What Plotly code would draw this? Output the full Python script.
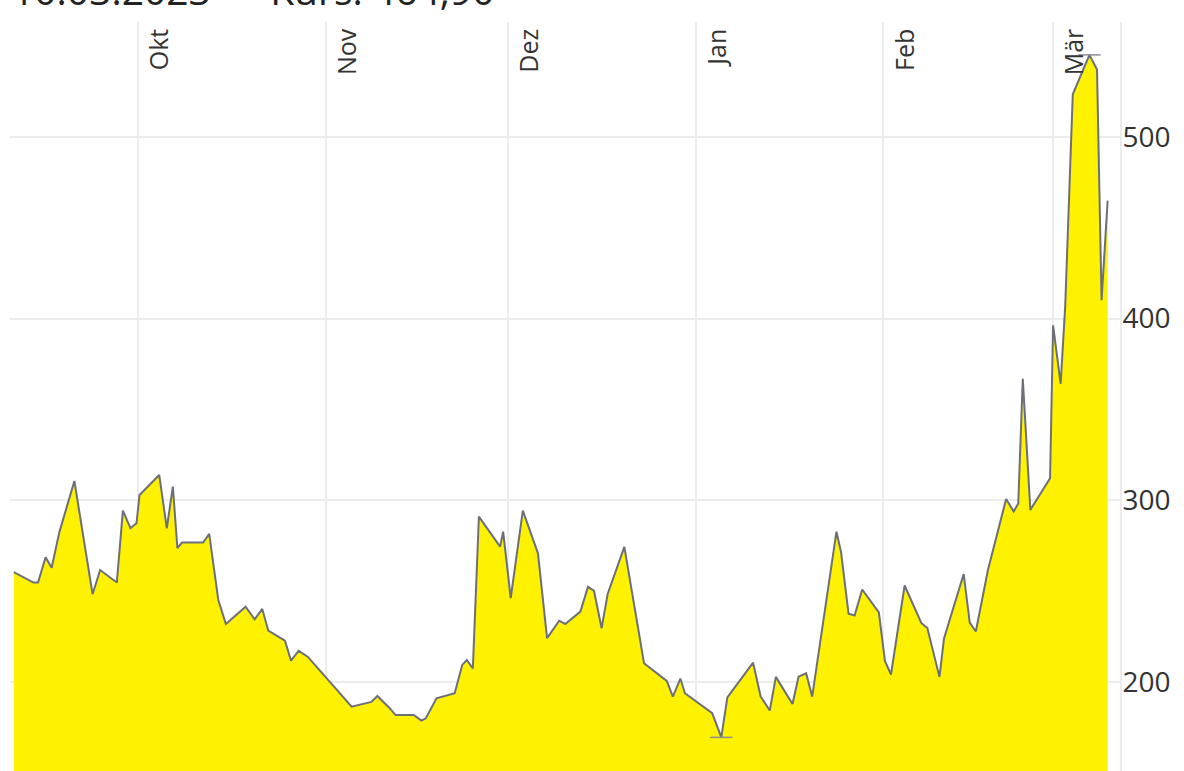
import numpy as np
import pandas as pd
import plotly.graph_objects as go

# ---- data ----
dates = [
    "2022-09-10 12:00", "2022-09-13 18:00", "2022-09-14 12:00", "2022-09-15 18:00", "2022-09-16 18:00",
    "2022-09-18 00:00", "2022-09-20 12:00", "2022-09-23 12:00", "2022-09-24 18:00", "2022-09-27 12:00",
    "2022-09-28 12:00", "2022-09-29 18:00", "2022-09-30 18:00", "2022-10-01 06:00", "2022-10-04 12:00",
    "2022-10-05 18:00", "2022-10-06 18:00", "2022-10-07 12:00", "2022-10-08 06:00", "2022-10-11 18:00",
    "2022-10-12 18:00", "2022-10-14 06:00", "2022-10-15 12:00", "2022-10-18 18:00", "2022-10-20 06:00",
    "2022-10-21 12:00", "2022-10-22 12:00", "2022-10-25 06:00", "2022-10-26 06:00", "2022-10-27 12:00",
    "2022-10-29 00:00", "2022-11-05 06:00", "2022-11-08 12:00", "2022-11-09 12:00", "2022-11-11 12:00",
    "2022-11-12 12:00", "2022-11-15 12:00", "2022-11-16 18:00", "2022-11-17 12:00", "2022-11-19 06:00",
    "2022-11-22 06:00", "2022-11-23 12:00", "2022-11-24 06:00", "2022-11-25 06:00", "2022-11-26 06:00",
    "2022-11-29 18:00", "2022-11-30 06:00", "2022-12-01 12:00", "2022-12-03 12:00", "2022-12-06 00:00",
    "2022-12-07 12:00", "2022-12-09 12:00", "2022-12-10 12:00", "2022-12-13 00:00", "2022-12-14 06:00",
    "2022-12-15 06:00", "2022-12-16 12:00", "2022-12-17 12:00", "2022-12-20 06:00", "2022-12-23 12:00",
    "2022-12-27 06:00", "2022-12-28 06:00", "2022-12-29 12:00", "2022-12-30 06:00", "2023-01-03 18:00",
    "2023-01-05 06:00", "2023-01-06 06:00", "2023-01-10 12:00", "2023-01-11 18:00", "2023-01-13 06:00",
    "2023-01-14 06:00", "2023-01-17 00:00", "2023-01-18 00:00", "2023-01-19 06:00", "2023-01-20 06:00",
    "2023-01-24 06:00", "2023-01-25 00:00", "2023-01-26 06:00", "2023-01-27 06:00", "2023-01-28 12:00",
    "2023-01-31 06:00", "2023-02-01 06:00", "2023-02-02 06:00", "2023-02-04 12:00", "2023-02-07 06:00",
    "2023-02-08 06:00", "2023-02-10 06:00", "2023-02-11 00:00", "2023-02-14 06:00", "2023-02-15 06:00",
    "2023-02-16 06:00", "2023-02-18 06:00", "2023-02-21 06:00", "2023-02-22 12:00", "2023-02-23 06:00",
    "2023-02-24 00:00", "2023-02-25 06:00", "2023-02-28 12:00", "2023-03-01 00:00", "2023-03-02 06:00",
    "2023-03-03 00:00", "2023-03-04 06:00", "2023-03-07 00:00", "2023-03-08 06:00", "2023-03-09 00:00",
    "2023-03-10 00:00",
]
values = [
    260.4, 254.7, 254.7, 268.6, 262.9,
    282.2, 310.6, 248.3, 261.6, 254.7,
    294.3, 284.6, 287.3, 302.9, 313.9,
    284.6, 307.5, 273.6, 276.7, 276.7,
    281.5, 245.1, 231.9, 241.4, 234.5,
    240.2, 228.2, 222.7, 211.7, 217.1,
    213.9, 186.4, 189.0, 192.3, 185.7,
    181.8, 181.8, 178.7, 180.0, 191.0,
    193.8, 209.4, 212.1, 207.5, 291.0,
    274.5, 282.7, 246.1, 294.3, 270.8,
    224.1, 233.7, 231.9, 238.7, 252.3,
    250.1, 229.6, 248.4, 274.3, 210.3,
    200.6, 191.9, 201.9, 193.8, 182.8,
    169.5, 191.5, 210.6, 191.9, 184.3,
    202.8, 187.9, 202.9, 204.8, 191.9,
    282.7, 271.7, 237.6, 236.6, 250.9,
    238.3, 211.6, 204.1, 253.1, 232.5,
    229.7, 202.8, 224.0, 259.4, 232.7,
    227.8, 261.6, 300.7, 293.8, 298.2,
    366.9, 294.7, 312.1, 396.2, 364.1,
    407.0, 523.4, 545.1, 537.1, 410.1,
    464.9,
]
month_ticks = ["2022-10-01", "2022-11-01", "2022-12-01", "2023-01-01", "2023-02-01", "2023-03-01"]
month_labels = ["Okt", "Nov", "Dez", "Jan", "Feb", "Mär"]
y_ticks = [200, 300, 400, 500]
title_text = "10.03.2023 — Kurs: 464,90"

FONT = "Open Sans"
GRID = "#ececec"

fig = go.Figure()
fig.add_trace(go.Scatter(
    x=dates, y=values, mode="lines",
    line=dict(color="#6b7078", width=2),
    fill="tozeroy", fillcolor="#FFF200",
    hoverinfo="x+y",
))

# min / max markers (short horizontal ticks at extreme values)
t_all = pd.to_datetime(dates)
half = pd.Timedelta(hours=44)
for idx in (int(np.argmin(values)), int(np.argmax(values))):
    t = t_all[idx]
    fig.add_trace(go.Scatter(
        x=[t - half, t + half], y=[values[idx], values[idx]],
        mode="lines", line=dict(color="#8a8d92", width=1.5), hoverinfo="skip",
    ))

fig.add_annotation(
    text=title_text, xref="paper", yref="paper", x=0.0, y=1.005,
    xanchor="left", yanchor="bottom", showarrow=False,
    font=dict(family=FONT, size=39, color="#222"),
)

fig.update_layout(
    width=1184, height=771,
    margin=dict(l=10, r=64, t=22, b=0, pad=0),
    paper_bgcolor="white", plot_bgcolor="white",
    showlegend=False,
    font=dict(family=FONT, color="#333"),
    xaxis=dict(
        type="date",
        range=["2022-09-09 21:00", "2023-03-12 01:00"],
        side="top",
        tickvals=month_ticks, ticktext=month_labels,
        tickangle=-90, ticklabelposition="inside",
        ticks="", showgrid=True, gridcolor=GRID, gridwidth=2,
        zeroline=False, showline=False,
        tickfont=dict(family=FONT, size=25, color="#333"),
        ticklabelshift=22, ticklabelstandoff=-10,
    ),
    yaxis=dict(
        side="right", range=[151, 563.2],
        tickvals=y_ticks, ticks="",
        showgrid=True, gridcolor=GRID, gridwidth=2,
        zeroline=False, showline=True, linecolor=GRID, linewidth=2,
        tickfont=dict(family=FONT, size=28, color="#333"),
        ticklabelstandoff=-5,
    ),
)

fig.write_html(
    "out.html",
    config={"displayModeBar": False},
    post_script="document.body.style.margin='0';document.body.style.overflow='hidden';",
)
